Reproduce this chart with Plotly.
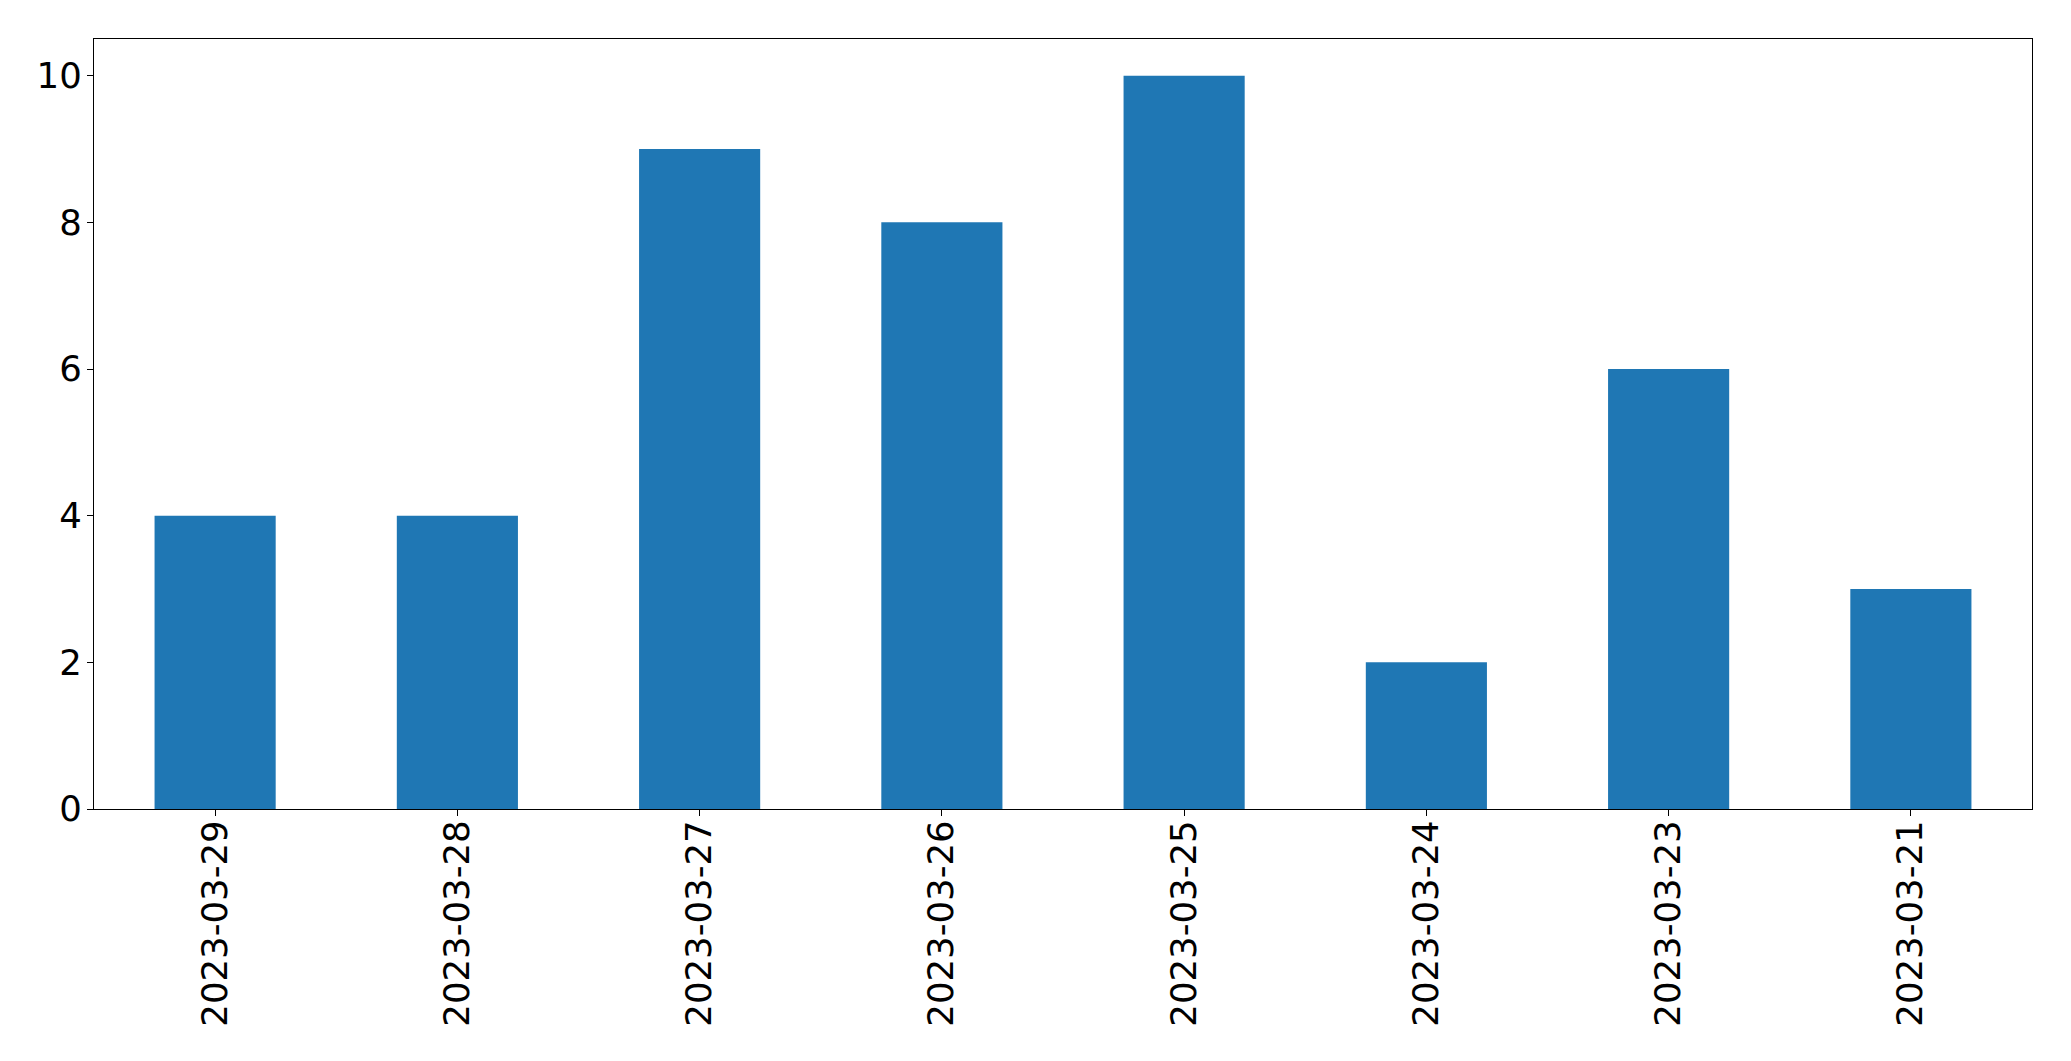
import plotly.graph_objects as go

categories = ["2023-03-29", "2023-03-28", "2023-03-27", "2023-03-26",
              "2023-03-25", "2023-03-24", "2023-03-23", "2023-03-21"]
values = [4, 4, 9, 8, 10, 2, 6, 3]
y_ticks = [0, 2, 4, 6, 8, 10]

fig = go.Figure(go.Bar(x=categories, y=values, marker=dict(color="#1f77b4", line=dict(width=0)),
                       width=0.5))

fig.update_layout(
    width=2071, height=1061,
    margin=dict(l=86, r=47, t=31, b=260),
    plot_bgcolor="white", paper_bgcolor="white",
    font=dict(family="DejaVu Sans", size=35.5, color="black"),
    showlegend=False, bargap=0.5,
)
fig.update_xaxes(type="category", range=[-0.5, 7.5], tickangle=-90,
                 showline=True, linecolor="black", linewidth=1.3, mirror=True,
                 ticks="outside", ticklen=6, tickwidth=1.3, tickcolor="black",
                 showgrid=False, zeroline=False, ticklabelstandoff=-10)
fig.update_yaxes(range=[0, 10.5], tickvals=y_ticks, ticktext=[str(v) for v in y_ticks],
                 showline=True, linecolor="black", linewidth=1.3, mirror=True,
                 ticks="outside", ticklen=6, tickwidth=1.3, tickcolor="black",
                 showgrid=False, zeroline=False, ticklabelstandoff=-2)

fig.write_html("out.html")
